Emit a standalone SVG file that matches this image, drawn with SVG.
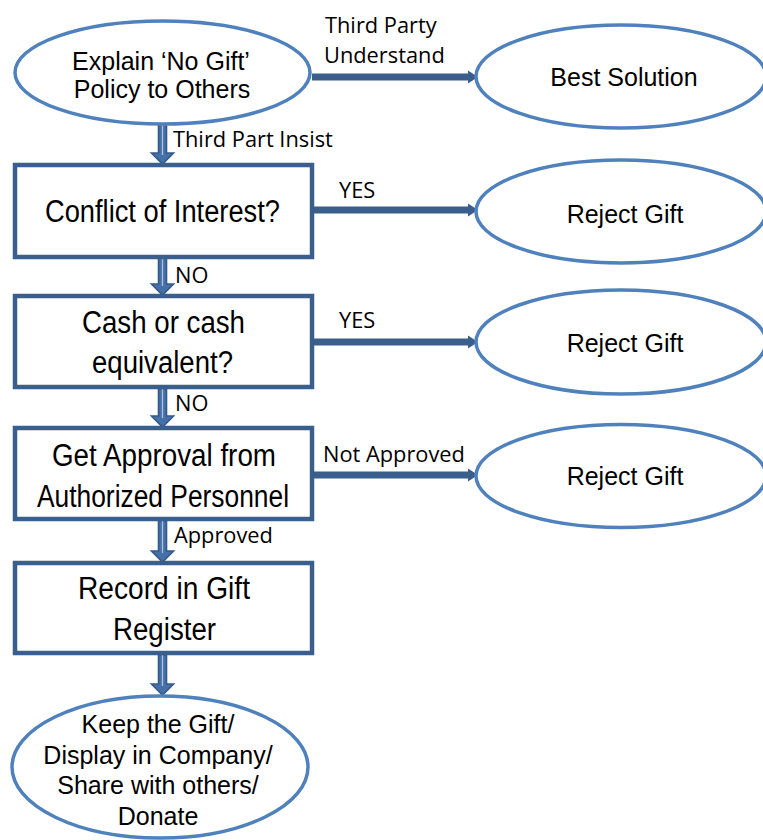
<svg xmlns="http://www.w3.org/2000/svg" width="763" height="840" viewBox="0 0 763 840">
<defs>
<style>
.ell{fill:#ffffff;stroke:#4F81BD;stroke-width:3.5}
.box{fill:#ffffff;stroke:#3B5F8D;stroke-width:4.5}
.t{font-family:"Liberation Sans",Arial,sans-serif;font-size:25px;fill:#000000;text-anchor:middle}
.tb{font-family:"Liberation Sans",Arial,sans-serif;font-size:31px;fill:#000000;text-anchor:middle}
.lbl{font-family:"Open Sans","Liberation Sans",sans-serif;font-size:21.8px;fill:#000000}
.h{stroke:#3B5F8D;stroke-width:7;fill:none}
.v{fill:#4570A8;stroke:#35598A;stroke-width:1.6;stroke-linejoin:miter}
.vi{stroke:#A9C0E0;stroke-width:1.3}
</style>
</defs>

<g id="connectors">
<line class="h" x1="312" y1="77" x2="470" y2="77"/>
<path d="M468,70.5 L478,77 L468,83.5 z" fill="#3B5F8D"/>
<line class="h" x1="314" y1="210" x2="470" y2="210"/>
<path d="M468,203.5 L478,210 L468,216.5 z" fill="#3B5F8D"/>
<line class="h" x1="314" y1="342" x2="470" y2="342"/>
<path d="M468,335.5 L478,342 L468,348.5 z" fill="#3B5F8D"/>
<line class="h" x1="314" y1="475" x2="470" y2="475"/>
<path d="M468,468.5 L478,475 L468,481.5 z" fill="#3B5F8D"/>

<path class="v" d="M158.5,124 L166.5,124 L166.5,153 L173.5,153 L162.5,164 L151.5,153 L158.5,153 z"/>
<line class="vi" x1="162.5" y1="124" x2="162.5" y2="155"/>
<path class="v" d="M158.5,258 L166.5,258 L166.5,284 L173.5,284 L162.5,295 L151.5,284 L158.5,284 z"/>
<line class="vi" x1="162.5" y1="258" x2="162.5" y2="286"/>
<path class="v" d="M158.5,389 L166.5,389 L166.5,416 L173.5,416 L162.5,427 L151.5,416 L158.5,416 z"/>
<line class="vi" x1="162.5" y1="389" x2="162.5" y2="418"/>
<path class="v" d="M158.5,521 L166.5,521 L166.5,551 L173.5,551 L162.5,562 L151.5,551 L158.5,551 z"/>
<line class="vi" x1="162.5" y1="521" x2="162.5" y2="553"/>
<path class="v" d="M158.5,655 L166.5,655 L166.5,684 L173.5,684 L162.5,695 L151.5,684 L158.5,684 z"/>
<line class="vi" x1="162.5" y1="655" x2="162.5" y2="686"/>

<text class="lbl" x="325" y="33">Third Party</text>
<text class="lbl" x="324" y="63">Understand</text>
<text class="lbl" x="173" y="147">Third Part Insist</text>
<text class="lbl" x="339" y="198">YES</text>
<text class="lbl" x="175" y="283">NO</text>
<text class="lbl" x="339" y="328">YES</text>
<text class="lbl" x="175" y="411">NO</text>
<text class="lbl" x="323" y="462">Not Approved</text>
<text class="lbl" x="174" y="543">Approved</text>
</g>

<g id="explain">
<ellipse class="ell" cx="162.5" cy="72.5" rx="147.5" ry="51.5"/>
<text class="t" x="161" y="70">Explain ‘No Gift’</text>
<text class="t" x="162" y="98">Policy to Others</text>
</g>

<g id="best">
<ellipse class="ell" cx="621" cy="76.5" rx="145" ry="51.5"/>
<text class="t" x="624" y="86">Best Solution</text>
</g>

<g id="conflict">
<rect class="box" x="15" y="165" width="297" height="92"/>
<text class="tb" x="162.5" y="222" textLength="235" lengthAdjust="spacingAndGlyphs">Conflict of Interest?</text>
</g>

<g id="reject1">
<ellipse class="ell" cx="621" cy="211.5" rx="145" ry="51.5"/>
<text class="t" x="625" y="223">Reject Gift</text>
</g>

<g id="cash">
<rect class="box" x="15" y="296" width="297" height="91"/>
<text class="tb" x="163.5" y="333" textLength="163" lengthAdjust="spacingAndGlyphs">Cash or cash</text>
<text class="tb" x="162.5" y="373" textLength="141" lengthAdjust="spacingAndGlyphs">equivalent?</text>
</g>

<g id="reject2">
<ellipse class="ell" cx="621" cy="342" rx="145" ry="52"/>
<text class="t" x="625" y="352">Reject Gift</text>
</g>

<g id="approval">
<rect class="box" x="15" y="428" width="297" height="91"/>
<text class="tb" x="164" y="466" textLength="224" lengthAdjust="spacingAndGlyphs">Get Approval from</text>
<text class="tb" x="163" y="507" textLength="252" lengthAdjust="spacingAndGlyphs">Authorized Personnel</text>
</g>

<g id="reject3">
<ellipse class="ell" cx="621" cy="476" rx="145" ry="51.5"/>
<text class="t" x="625" y="485">Reject Gift</text>
</g>

<g id="record">
<rect class="box" x="15" y="563" width="297" height="90"/>
<text class="tb" x="164" y="599" textLength="172" lengthAdjust="spacingAndGlyphs">Record in Gift</text>
<text class="tb" x="164.5" y="640" textLength="103" lengthAdjust="spacingAndGlyphs">Register</text>
</g>

<g id="keep">
<ellipse class="ell" cx="160" cy="767" rx="148" ry="71"/>
<text class="t" x="158" y="733">Keep the Gift/</text>
<text class="t" x="158" y="764">Display in Company/</text>
<text class="t" x="158" y="794">Share with others/</text>
<text class="t" x="158" y="825">Donate</text>
</g>
</svg>
